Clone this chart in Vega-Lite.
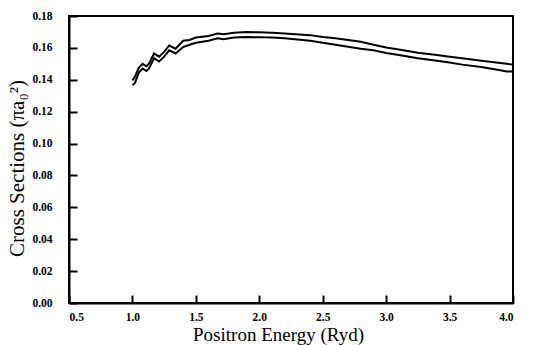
{
  "$schema": "https://vega.github.io/schema/vega-lite/v6.json",
  "width": 444,
  "height": 287,
  "autosize": "none",
  "padding": {"left": 69, "top": 16, "right": 25, "bottom": 42},
  "background": "white",
  "config": {
    "view": {"stroke": "black", "strokeWidth": 2}
  },
  "data": {
    "values": [
      {"E": 1.00, "sigma": 0.1395, "s": "upper"}, {"E": 1.02, "sigma": 0.142, "s": "upper"}, {"E": 1.05, "sigma": 0.1475, "s": "upper"}, {"E": 1.08, "sigma": 0.150, "s": "upper"}, {"E": 1.11, "sigma": 0.1485, "s": "upper"}, {"E": 1.13, "sigma": 0.150, "s": "upper"}, {"E": 1.17, "sigma": 0.1565, "s": "upper"}, {"E": 1.21, "sigma": 0.1545, "s": "upper"}, {"E": 1.25, "sigma": 0.1575, "s": "upper"}, {"E": 1.29, "sigma": 0.1615, "s": "upper"}, {"E": 1.34, "sigma": 0.1595, "s": "upper"}, {"E": 1.40, "sigma": 0.1645, "s": "upper"}, {"E": 1.45, "sigma": 0.1650, "s": "upper"}, {"E": 1.5, "sigma": 0.1665, "s": "upper"}, {"E": 1.6, "sigma": 0.1675, "s": "upper"}, {"E": 1.67, "sigma": 0.1690, "s": "upper"}, {"E": 1.72, "sigma": 0.1685, "s": "upper"}, {"E": 1.8, "sigma": 0.1695, "s": "upper"}, {"E": 1.9, "sigma": 0.1700, "s": "upper"}, {"E": 2.0, "sigma": 0.1698, "s": "upper"}, {"E": 2.1, "sigma": 0.1695, "s": "upper"}, {"E": 2.2, "sigma": 0.1690, "s": "upper"}, {"E": 2.4, "sigma": 0.1680, "s": "upper"}, {"E": 2.5, "sigma": 0.1668, "s": "upper"}, {"E": 2.6, "sigma": 0.1660, "s": "upper"}, {"E": 2.8, "sigma": 0.1638, "s": "upper"}, {"E": 2.9, "sigma": 0.1620, "s": "upper"}, {"E": 3.0, "sigma": 0.1602, "s": "upper"}, {"E": 3.1, "sigma": 0.1590, "s": "upper"}, {"E": 3.25, "sigma": 0.1570, "s": "upper"}, {"E": 3.4, "sigma": 0.1555, "s": "upper"}, {"E": 3.5, "sigma": 0.1545, "s": "upper"}, {"E": 3.6, "sigma": 0.1535, "s": "upper"}, {"E": 3.75, "sigma": 0.1520, "s": "upper"}, {"E": 3.9, "sigma": 0.1505, "s": "upper"}, {"E": 3.95, "sigma": 0.1500, "s": "upper"}, {"E": 4.0, "sigma": 0.1495, "s": "upper"},
      {"E": 1.00, "sigma": 0.1365, "s": "lower"}, {"E": 1.02, "sigma": 0.138, "s": "lower"}, {"E": 1.05, "sigma": 0.1445, "s": "lower"}, {"E": 1.08, "sigma": 0.147, "s": "lower"}, {"E": 1.11, "sigma": 0.1455, "s": "lower"}, {"E": 1.13, "sigma": 0.147, "s": "lower"}, {"E": 1.17, "sigma": 0.1535, "s": "lower"}, {"E": 1.21, "sigma": 0.1515, "s": "lower"}, {"E": 1.25, "sigma": 0.1545, "s": "lower"}, {"E": 1.29, "sigma": 0.1585, "s": "lower"}, {"E": 1.34, "sigma": 0.1565, "s": "lower"}, {"E": 1.40, "sigma": 0.1605, "s": "lower"}, {"E": 1.45, "sigma": 0.1620, "s": "lower"}, {"E": 1.5, "sigma": 0.1632, "s": "lower"}, {"E": 1.6, "sigma": 0.1645, "s": "lower"}, {"E": 1.67, "sigma": 0.1660, "s": "lower"}, {"E": 1.72, "sigma": 0.1655, "s": "lower"}, {"E": 1.8, "sigma": 0.1665, "s": "lower"}, {"E": 1.9, "sigma": 0.1668, "s": "lower"}, {"E": 2.0, "sigma": 0.1667, "s": "lower"}, {"E": 2.1, "sigma": 0.1665, "s": "lower"}, {"E": 2.2, "sigma": 0.1660, "s": "lower"}, {"E": 2.4, "sigma": 0.1645, "s": "lower"}, {"E": 2.5, "sigma": 0.1632, "s": "lower"}, {"E": 2.6, "sigma": 0.1620, "s": "lower"}, {"E": 2.8, "sigma": 0.1595, "s": "lower"}, {"E": 2.9, "sigma": 0.1585, "s": "lower"}, {"E": 3.0, "sigma": 0.1568, "s": "lower"}, {"E": 3.1, "sigma": 0.1555, "s": "lower"}, {"E": 3.25, "sigma": 0.1535, "s": "lower"}, {"E": 3.4, "sigma": 0.1520, "s": "lower"}, {"E": 3.5, "sigma": 0.1508, "s": "lower"}, {"E": 3.6, "sigma": 0.1495, "s": "lower"}, {"E": 3.75, "sigma": 0.1480, "s": "lower"}, {"E": 3.9, "sigma": 0.1460, "s": "lower"}, {"E": 3.95, "sigma": 0.1452, "s": "lower"}, {"E": 4.0, "sigma": 0.1452, "s": "lower"}
    ]
  },
  "layer": [
    {
      "mark": {"type": "line", "color": "black", "strokeWidth": 2},
      "encoding": {
        "x": {"field": "E", "type": "quantitative", "scale": {"domain": [0.5, 4.0], "nice": false, "zero": false},
          "axis": {"gridOpacity": 0, "domainColor": "black", "domainWidth": 2, "ticks": true, "tickColor": "black", "tickSize": -8, "tickWidth": 2, "title": "Positron Energy (Ryd)", "values": [0.5, 1.0, 1.5, 2.0, 2.5, 3.0, 3.5, 4.0], "format": ".1f", "labelPadding": 16, "labelFont": "Liberation Serif", "labelColor": "black", "labelFontSize": 11.5, "labelFontWeight": "bold", "titleFont": "Liberation Serif", "titleColor": "black", "titleFontSize": 19, "titleFontWeight": "normal", "titleBaseline": "alphabetic", "titleY": 37, "titleX": 209}},
        "y": {"field": "sigma", "type": "quantitative", "scale": {"domain": [0, 0.18], "nice": false, "zero": true},
          "axis": {"gridOpacity": 0, "domainColor": "black", "domainWidth": 2, "ticks": true, "tickColor": "black", "tickSize": -8, "tickWidth": 2, "title": "Cross Sections (πa₀²)", "values": [0, 0.02, 0.04, 0.06, 0.08, 0.1, 0.12, 0.14, 0.16, 0.18], "format": ".2f", "labelPadding": 25, "labelFont": "Liberation Serif", "labelColor": "black", "labelFontSize": 11.5, "labelFontWeight": "bold", "titleFont": "Liberation Serif", "titleColor": "black", "titleFontSize": 21, "titleFontWeight": "normal", "titlePadding": 4, "titleY": 152}},
        "detail": {"field": "s"}
      }
    }
  ]
}
